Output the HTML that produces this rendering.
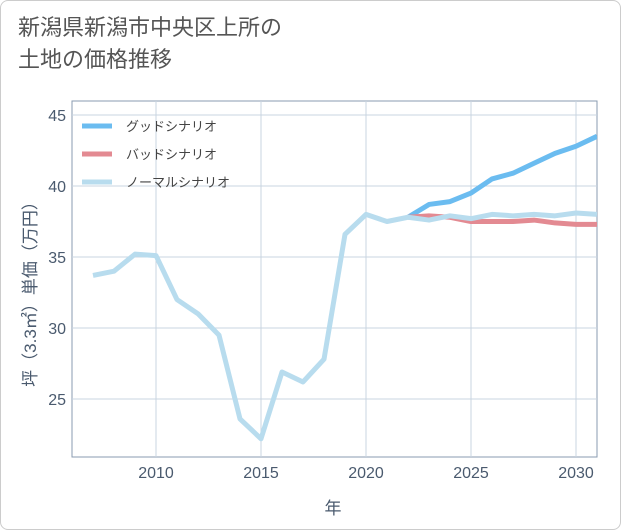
<!DOCTYPE html>
<html><head><meta charset="utf-8">
<style>
body{margin:0;background:#fff;font-family:"Liberation Sans","Noto Sans CJK JP",sans-serif;}
#card{position:absolute;left:0;top:0;width:619px;height:528px;border:1px solid #ccc;border-radius:8px;background:#fff;}
#title{position:absolute;left:18px;top:12px;font-size:22px;line-height:32px;color:#555;}
</style></head><body>
<div id="card"></div>
<div id="title">新潟県新潟市中央区上所の<br>土地の価格推移</div>
<svg id="chart" width="621" height="530" style="position:absolute;left:0;top:0"></svg>
<script>
const years=[2007,2008,2009,2010,2011,2012,2013,2014,2015,2016,2017,2018,2019,2020,2021,2022,2023,2024,2025,2026,2027,2028,2029,2030,2031];
const normal=[33.7,34.0,35.2,35.1,32.0,31.0,29.5,23.6,22.2,26.9,26.2,27.8,36.6,38.0,37.5,37.8,37.6,37.9,37.7,38.0,37.9,38.0,37.9,38.1,38.0];
const futureYears=[2022,2023,2024,2025,2026,2027,2028,2029,2030,2031];
const good=[37.8,38.7,38.9,39.5,40.5,40.9,41.6,42.3,42.8,43.5];
const bad=[37.8,37.9,37.8,37.5,37.5,37.5,37.6,37.4,37.3,37.3];
const xTicks=[2010,2015,2020,2025,2030];
const yTicks=[25,30,35,40,45];
const L=72,R=597,T=101,B=457;
const x=v=>156+(v-2010)*21;
const y=v=>186-(v-40)*14.2;
const svg=document.getElementById('chart');
const NS='http://www.w3.org/2000/svg';
function mk(tag,attrs){const e=document.createElementNS(NS,tag);for(const k in attrs)e.setAttribute(k,attrs[k]);svg.appendChild(e);return e;}
let e=mk('rect',{x:L,y:T,width:R-L,height:B-T,fill:'#fff',stroke:'#8a9bb0','stroke-width':1});


xTicks.forEach(t=>{
 let g=mk('line',{x1:x(t),x2:x(t),y1:T,y2:B,stroke:'#c8d4e0'});
 
 
 let l=mk('text',{x:x(t),y:B+21,'text-anchor':'middle','font-size':16,fill:'#4a5a6e'});
 l.textContent=t;
 
 
});
yTicks.forEach(t=>{
 let g=mk('line',{x1:L,x2:R,y1:y(t),y2:y(t),stroke:'#c8d4e0'});
 
 
 let l=mk('text',{x:L-6,y:y(t)+6,'text-anchor':'end','font-size':16,fill:'#4a5a6e'});
 l.textContent=t;
 
 
});
function line(xs,vs,color,name){
 const p=mk('polyline',{points:xs.map((d,i)=>x(d)+','+y(vs[i])).join(' '),fill:'none',stroke:color,'stroke-width':5,'stroke-linejoin':'round'});
 
 
}
const cp=mk('clipPath',{id:'c'});
line(futureYears,good,'#6bbcf0','good-scenario-line');
line(futureYears,bad,'#e38a92','bad-scenario-line');
line(years,normal,'#b8dcee','normal-scenario-line');
svg.querySelectorAll('polyline').forEach(p=>p.setAttribute('clip-path','url(#c)'));
const cr=document.createElementNS(NS,'rect');cr.setAttribute('x',L);cr.setAttribute('y',T);cr.setAttribute('width',R-L);cr.setAttribute('height',B-T);cp.appendChild(cr);
const leg=[['グッドシナリオ','#6bbcf0'],['バッドシナリオ','#e38a92'],['ノーマルシナリオ','#b8dcee']];
leg.forEach((d,i)=>{
 let ly=126+i*28;
 let s=mk('line',{x1:82,x2:112,y1:ly,y2:ly,stroke:d[1],'stroke-width':5});
 
 
 let t=mk('text',{x:126,y:ly+5,'font-size':13,fill:'#444'});
 t.textContent=d[0];
 
 
});
let xt=mk('text',{x:333,y:514,'text-anchor':'middle','font-size':17,fill:'#4a5a6e'});
xt.textContent='年';


let yt=mk('text',{x:0,y:0,'text-anchor':'middle','font-size':17,fill:'#4a5a6e',transform:'translate(36,290) rotate(-90)'});
yt.textContent='坪（3.3㎡）単価（万円）';


</script>
</body></html>
